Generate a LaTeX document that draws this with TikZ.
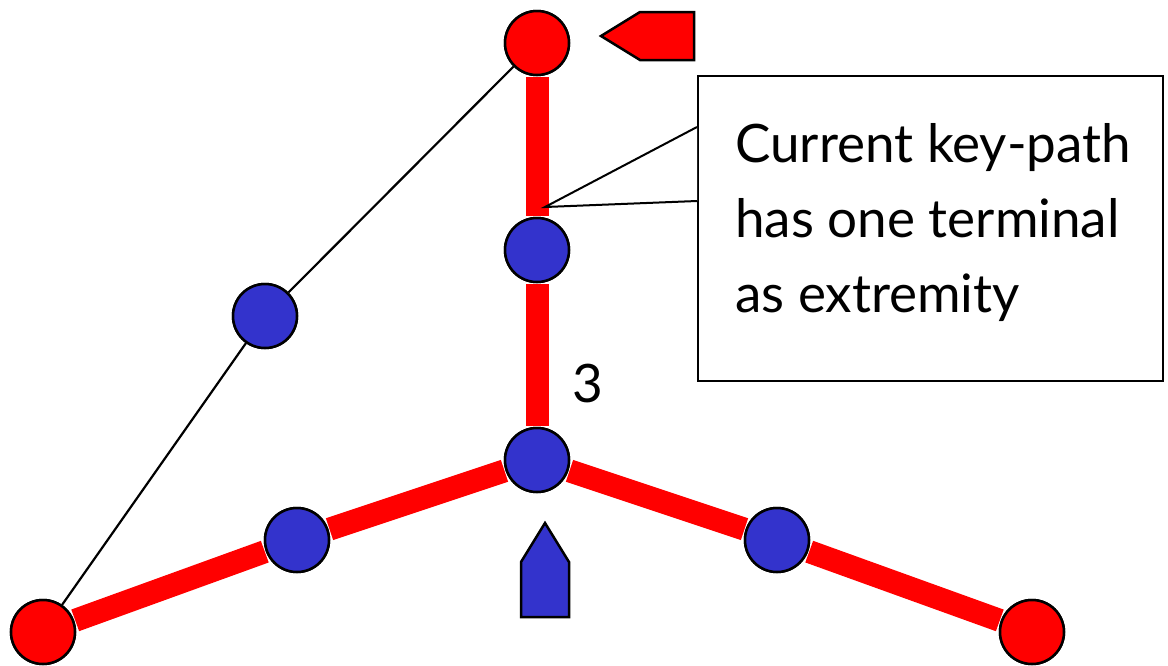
\documentclass[tikz,border=0pt]{standalone}
\usepackage{fontspec}
\setmainfont{Lato}
\begin{document}
\begin{tikzpicture}[x=1pt,y=-1pt,
  term/.style={circle,draw=black,line width=2.5pt,fill=red,minimum size=64pt,inner sep=0pt},
  stein/.style={circle,draw=black,line width=2.5pt,fill=myblue,minimum size=64pt,inner sep=0pt},
  keyedge/.style={draw=red,line width=23pt,shorten <=1pt,shorten >=1pt},
  thinedge/.style={draw=black,line width=2.2pt},
  flag/.style={draw=black,line width=2.5pt,line join=miter},
  lbl/.style={font=\fontsize{53}{75}\selectfont,inner sep=0pt}]
\definecolor{myblue}{RGB}{51,51,204}
\useasboundingbox (0,0) rectangle (1168,665);
% nodes
\node[term]  (t1) at (537,43) {};
\node[stein] (b1) at (537,250) {};
\node[stein] (c)  at (537,460) {};
\node[stein] (bl) at (265,316) {};
\node[stein] (b2) at (297,540) {};
\node[stein] (b3) at (777,540) {};
\node[term]  (t2) at (43,632) {};
\node[term]  (t3) at (1032,632) {};
% edges
\path[keyedge] (t1) -- (b1);
\path[keyedge] (b1) -- (c);
\path[keyedge] (c) -- (b2);
\path[keyedge] (b2) -- (t2);
\path[keyedge] (c) -- (b3);
\path[keyedge] (b3) -- (t3);
\draw[thinedge] (t1) -- (bl);
\draw[thinedge] (bl) -- (t2);
% redraw nodes on top
\node[term]  at (t1) {};
\node[stein] at (b1) {};
\node[stein] at (c) {};
\node[stein] at (bl) {};
\node[stein] at (b2) {};
\node[stein] at (b3) {};
\node[term]  at (t2) {};
\node[term]  at (t3) {};
% flags
\draw[flag,fill=red] (601,36) -- (640,12) -- (694,12) -- (694,60) -- (640,60) -- cycle;
\draw[flag,fill=myblue] (545,523) -- (569,562) -- (569,617) -- (521,617) -- (521,562) -- cycle;
% label 3
\node[lbl,anchor=base] (three) at (588,402) {3};
% callout
\node[draw=black,line width=2pt,minimum width=465pt,minimum height=305pt,anchor=north west,inner sep=0pt] (box) at (697,75) {};
\coordinate (tip) at (545,207);
\fill[white] ([yshift=-52pt]box.north west) -- (tip) -- ([yshift=-126pt]box.north west) -- cycle;
\draw[line width=2pt,line join=miter] ([yshift=-52pt]box.north west) -- (tip) -- ([yshift=-126pt]box.north west);
\node[lbl,anchor=base west] (l1) at (735,162) {Current key-path};
\node[lbl,anchor=base west] (l2) at (735,237) {has one terminal};
\node[lbl,anchor=base west] (l3) at (735,312) {as extremity};
\end{tikzpicture}
\end{document}
